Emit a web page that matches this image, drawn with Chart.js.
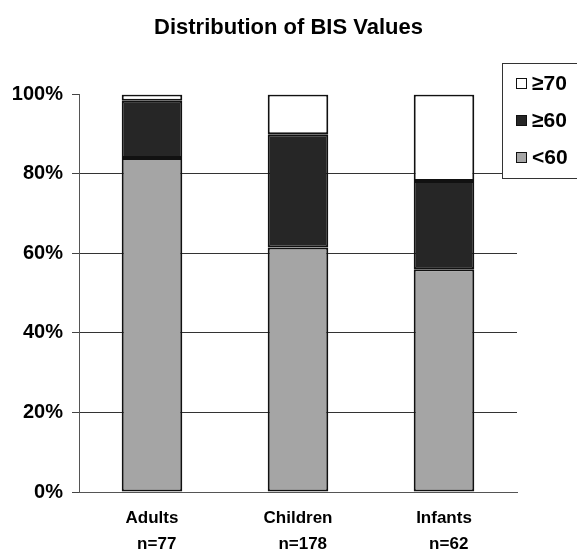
<!DOCTYPE html>
<html>
<head>
<meta charset="utf-8">
<script src="https://cdn.jsdelivr.net/npm/chart.js@4"></script>
<style>
  html, body { margin: 0; padding: 0; background: #fff; }
  #wrap { width: 577px; height: 552px; }
</style>
</head>
<body>
<div id="wrap"><canvas id="bisChart"></canvas></div>
<script>
// Group names with sample sizes (two-line tick labels)
const categories = [['Adults', '  n=77'], ['Children', '  n=178'], ['Infants', '  n=62']];
// Percent of readings in each BIS band
const below60 = [84.0, 61.5, 56.0];
const from60 = [14.4, 28.5, 22.2];
const from70 = [1.6, 10.0, 21.8];
const yTicks = [0, 20, 40, 60, 80, 100];

const FONT = '"Liberation Sans", Arial, sans-serif';

// Legend drawn as a framed box at the top right, like the original
const boxLegend = {
    id: 'boxLegend',
    afterDraw(chart) {
        const c = chart.ctx;
        const x0 = 502, y0 = 63, w = 90, h = 115;
        c.save();
        c.fillStyle = '#fff';
        c.fillRect(x0, y0, w, h);
        c.strokeStyle = '#333';
        c.lineWidth = 1;
        c.strokeRect(x0 + 0.5, y0 + 0.5, w, h);
        const items = chart.data.datasets.slice().reverse();
        const ys = [83, 120, 157];
        c.font = 'bold 21px ' + FONT;
        c.textBaseline = 'middle';
        items.forEach((ds, i) => {
            c.fillStyle = ds.backgroundColor;
            c.fillRect(516, ys[i] - 5, 11, 11);
            c.strokeStyle = '#111';
            c.strokeRect(516.5, ys[i] - 4.5, 10, 10);
            c.fillStyle = '#000';
            c.fillText(ds.label, 532, ys[i] + 1);
        });
        c.restore();
    }
};

const ctx = document.getElementById('bisChart').getContext('2d');

const bisChart = new Chart(ctx, {
    type: 'bar',
    data: {
        labels: categories,
        datasets: [
            { label: '<60', data: below60, backgroundColor: '#a5a5a5' },
            { label: '\u226560', data: from60, backgroundColor: '#262626' },
            { label: '\u226570', data: from70, backgroundColor: '#ffffff' }
        ].map(d => Object.assign(d, {
            borderColor: '#111',
            borderWidth: 2,
            borderSkipped: false,
            categoryPercentage: 1,
            barPercentage: 0.415
        }))
    },
    options: {
        responsive: true,
        maintainAspectRatio: false,
        animation: false,
        layout: { padding: 0 },
        plugins: {
            legend: { display: false },
            tooltip: { enabled: false },
            title: {
                display: true,
                text: 'Distribution of BIS Values',
                color: '#000',
                font: { family: FONT, size: 22, weight: 'bold' },
                padding: { top: 15, bottom: 53 }
            }
        },
        scales: {
            x: {
                stacked: true,
                grid: { display: false },
                border: { display: true, color: '#555', width: 1 },
                ticks: {
                    color: '#000',
                    font: { family: FONT, size: 17, weight: 'bold', lineHeight: 1.5 },
                    padding: 6
                },
                afterFit(scale) { scale.height = 60; }
            },
            y: {
                stacked: true,
                min: 0,
                max: 100,
                afterBuildTicks(scale) {
                    scale.ticks = yTicks.map(v => ({ value: v }));
                },
                grid: {
                    color: c => (c.tick && (c.tick.value === 100 || c.tick.value === 0)) ? 'rgba(0,0,0,0)' : '#333',
                    tickColor: '#444',
                    tickLength: 7,
                    lineWidth: 1
                },
                border: { display: true, color: '#555', width: 1 },
                ticks: {
                    color: '#000',
                    font: { family: FONT, size: 20, weight: 'bold' },
                    padding: 9,
                    callback: v => v + '%'
                },
                afterFit(scale) { scale.width = 79; }
            },
            // empty right-hand axis that keeps room for the legend box
            yRight: {
                position: 'right',
                display: true,
                grid: { display: false },
                border: { display: false },
                ticks: { display: false },
                afterFit(scale) { scale.width = 60; }
            }
        }
    },
    plugins: [boxLegend]
});
</script>
</body>
</html>
